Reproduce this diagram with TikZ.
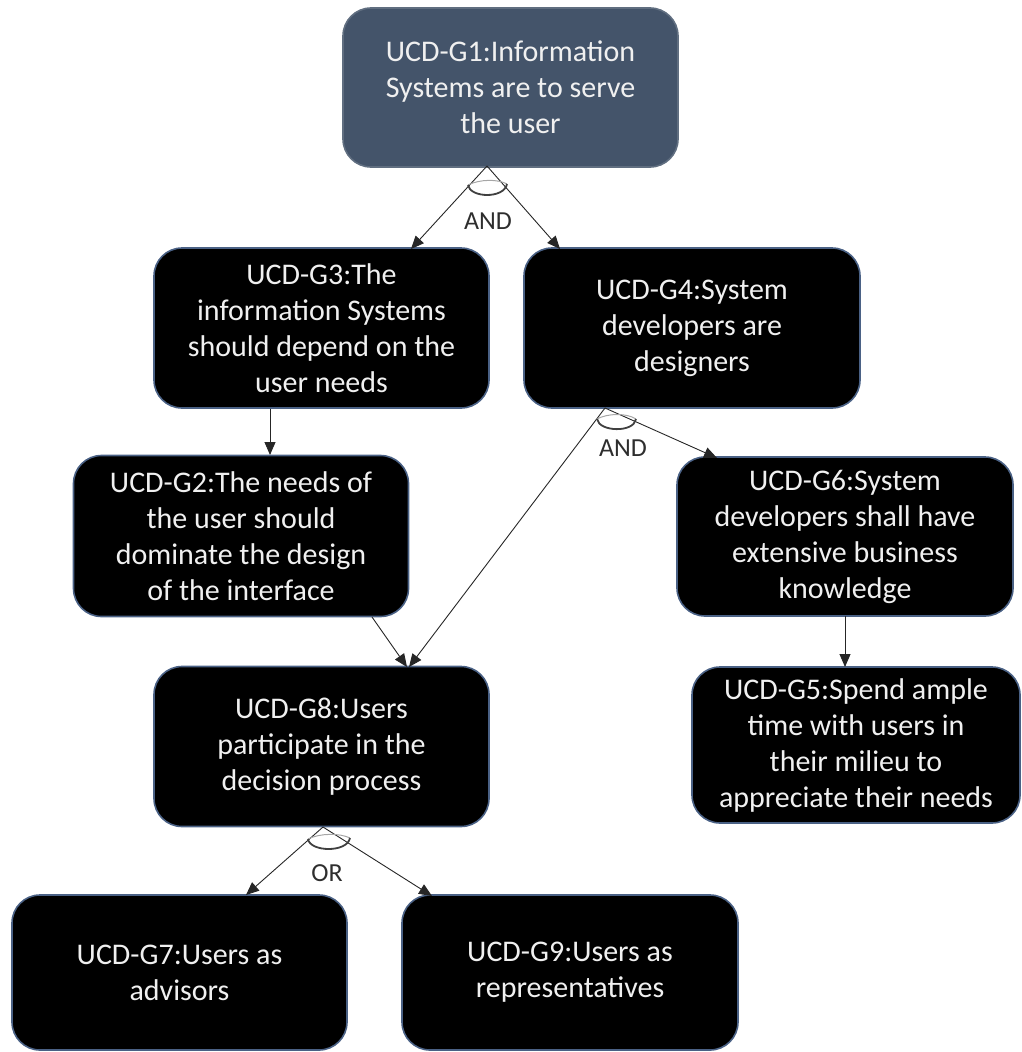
\documentclass[tikz,border=0pt]{standalone}
\usepackage{fontspec}
\setmainfont{Carlito}
\usetikzlibrary{arrows.meta}

\definecolor{slate}{HTML}{44546A}
\definecolor{edgeblue}{HTML}{4A6185}
\definecolor{labelgray}{HTML}{2E2E2E}

\tikzset{
  goal/.style={draw=edgeblue, line width=1.6pt, fill=black, text=white!94!black,
    rounded corners=28pt, inner sep=0pt, align=center,
    font=\fontsize{30}{36}\selectfont},
  rootgoal/.style={goal, fill=slate, draw=slate!85!white},
  link/.style={draw=black!85, line width=0.9pt,
    -{Triangle[length=13pt,width=11pt]}},
  joinarc/.style={draw=black!75, line width=1.8pt},
  joinarcup/.style={draw=black!35, line width=1pt},
  joinlabel/.style={text=labelgray, font=\fontsize{26}{28}\selectfont, inner sep=0pt}
}

\begin{document}
\begin{tikzpicture}[x=1pt, y=-1pt]
  \useasboundingbox (0,0) rectangle (1021,1052);

  % goal boxes
  \node[rootgoal, minimum width=335pt, minimum height=159pt] (g1) at (510.5,87.5)
    {UCD-G1:Information\\Systems are to serve\\the user};
  \node[goal, minimum width=335pt, minimum height=160pt] (g3) at (321.5,328)
    {UCD-G3:The\\information Systems\\should depend on the\\user needs};
  \node[goal, minimum width=336pt, minimum height=160pt] (g4) at (692,328)
    {UCD-G4:System\\developers are\\designers};
  \node[goal, minimum width=335pt, minimum height=161pt] (g2) at (241,536)
    {UCD-G2:The needs of\\the user should\\dominate the design\\of the interface};
  \node[goal, minimum width=336pt, minimum height=159pt] (g6) at (845,536.5)
    {UCD-G6:System\\developers shall have\\extensive business\\knowledge};
  \node[goal, minimum width=335pt, minimum height=160pt] (g8) at (321.5,746.5)
    {UCD-G8:Users\\participate in the\\decision process};
  \node[goal, minimum width=328pt, minimum height=156pt] (g5) at (856,745)
    {UCD-G5:Spend ample\\time with users in\\their milieu to\\appreciate their needs};
  \node[goal, minimum width=335pt, minimum height=155pt] (g7) at (179.5,972.5)
    {UCD-G7:Users as\\advisors};
  \node[goal, minimum width=336pt, minimum height=155pt] (g9) at (570,972.5)
    {UCD-G9:Users as\\representatives};

  % decomposition points
  \coordinate (j1) at (487,166);
  \coordinate (j4) at (605,408);
  \coordinate (j8) at (323,827);

  % G1 -> G3 and G4 (AND)
  \draw[link] (j1) -- (411,249);
  \draw[link] (j1) -- (560,249);
  \draw[joinarcup] (468,185) .. controls (480,179) and (498,179) .. (507,184);
  \draw[joinarc] (468,185) .. controls (470,198) and (504,199) .. (507,184);
  \node[joinlabel] (and1) at (488,221) {AND};

  % G3 -> G2
  \draw[link] (g3.south -| 270,0) -- (270,455);

  % G4 -> G8 and G6 (AND)
  \draw[link] (j4) -- (409,667);
  \draw[link] (j4) -- (717,458);
  \draw[joinarcup] (597,419) .. controls (608,413) and (627,413) .. (636,419);
  \draw[joinarc] (597,419) .. controls (599,432) and (634,433) .. (636,419);
  \node[joinlabel] (and2) at (623,448) {AND};

  % G2 -> G8
  \draw[link] (372,617) -- (407,667);

  % G6 -> G5
  \draw[link] (845,616) -- (845,667);

  % G8 -> G7 and G9 (OR)
  \draw[link] (j8) -- (246,895);
  \draw[link] (j8) -- (432,896);
  \draw[joinarcup] (308,839) .. controls (320,833) and (340,833) .. (350,838);
  \draw[joinarc] (308,839) .. controls (310,852) and (347,853) .. (350,838);
  \node[joinlabel] (or1) at (327,873) {OR};
\end{tikzpicture}
\end{document}
